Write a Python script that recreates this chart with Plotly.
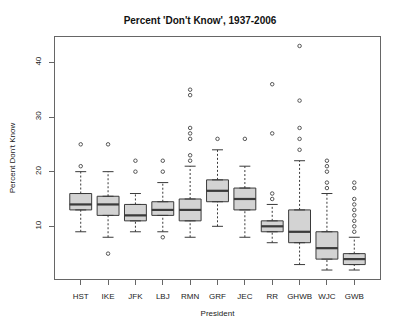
import plotly.graph_objects as go

presidents = ["HST", "IKE", "JFK", "LBJ", "RMN", "GRF", "JEC", "RR", "GHWB", "WJC", "GWB"]
lower_whisker = [9, 8, 9, 9, 8, 10, 8, 7, 3, 2, 2]
q1 = [13, 12, 11, 12, 11, 14.5, 13, 9, 7, 4, 3]
median = [14, 14, 12, 13, 13, 16.5, 15, 10, 9, 6, 4]
q3 = [16, 15.5, 14, 14.5, 15, 18.5, 17, 11, 13, 9, 5]
upper_whisker = [20, 20, 16, 18, 21, 24, 21, 14, 22, 16, 8]
outliers = [
    [21, 25],
    [5, 25],
    [20, 22],
    [8, 20, 22],
    [22, 23, 26, 27, 28, 34, 35],
    [26],
    [26],
    [15, 16, 27, 36],
    [24, 26, 28, 33, 43],
    [17, 18, 20, 21, 22],
    [9, 10, 11, 12, 13, 14, 15, 17, 18],
]

pos = list(range(1, len(presidents) + 1))
edge = "#3a3a3a"
font = "Liberation Sans, Arial, sans-serif"
text_color = "#222222"

fig = go.Figure()

# dashed whiskers from box edges to the extremes
wx, wy = [], []
for p, lo, a, b, hi in zip(pos, lower_whisker, q1, q3, upper_whisker):
    wx += [p, p, None, p, p, None]
    wy += [lo, a, None, b, hi, None]
fig.add_trace(go.Scatter(x=wx, y=wy, mode="lines", hoverinfo="skip",
                         line=dict(color=edge, width=1, dash="2px,2px")))

# whisker staples
sx, sy = [], []
for p, lo, hi in zip(pos, lower_whisker, upper_whisker):
    sx += [p - 0.2, p + 0.2, None, p - 0.2, p + 0.2, None]
    sy += [lo, lo, None, hi, hi, None]
fig.add_trace(go.Scatter(x=sx, y=sy, mode="lines", hoverinfo="skip",
                         line=dict(color=edge, width=1)))

# boxes
fig.add_trace(go.Box(x=pos, q1=q1, median=median, q3=q3,
                     lowerfence=q1, upperfence=q3, width=0.8,
                     fillcolor="#d3d3d3", line=dict(color=edge, width=1),
                     boxpoints=False, hoverinfo="skip"))

# heavy median bars
mx, my = [], []
for p, m in zip(pos, median):
    mx += [p - 0.4, p + 0.4, None]
    my += [m, m, None]
fig.add_trace(go.Scatter(x=mx, y=my, mode="lines", hoverinfo="skip",
                         line=dict(color=edge, width=2.2)))

# outlying points
ox, oy = [], []
for p, pts in zip(pos, outliers):
    ox += [p] * len(pts)
    oy += pts
fig.add_trace(go.Scatter(x=ox, y=oy, mode="markers", hoverinfo="skip",
                         marker=dict(symbol="circle-open", size=3.5,
                                     color="#555555", line=dict(width=1))))

fig.update_layout(
    width=400, height=328,
    margin=dict(l=38, r=20, t=37, b=48),
    paper_bgcolor="white", plot_bgcolor="white",
    showlegend=False,
    font=dict(family=font, size=8, color=text_color),
    title=dict(text="<b>Percent 'Don't Know', 1937-2006</b>",
               x=0.5, xanchor="center", y=1 - 20 / 328, yanchor="middle",
               font=dict(family=font, size=10, color="#111111")),
)
fig.update_xaxes(
    range=[0.06, 11.94], tickvals=pos, ticktext=presidents,
    tickfont=dict(family=font, size=8, color=text_color),
    showgrid=False, zeroline=False,
    showline=True, mirror=True, linecolor="#666666", linewidth=1,
    ticks="outside", ticklen=5, tickcolor="#666666", ticklabelstandoff=4,
    title=dict(text="President", standoff=10,
               font=dict(family=font, size=8, color=text_color)),
)
fig.update_yaxes(
    range=[0.36, 44.64], tickvals=[10, 20, 30, 40],
    tickfont=dict(family=font, size=8, color=text_color),
    showgrid=False, zeroline=False,
    showline=True, mirror=True, linecolor="#666666", linewidth=1,
    ticks="outside", ticklen=5, tickcolor="#666666", tickangle=-90,
    ticklabelstandoff=5,
    title=dict(text="Percent Don't Know", standoff=16,
               font=dict(family=font, size=8, color=text_color)),
)

fig.write_html("out.html")
